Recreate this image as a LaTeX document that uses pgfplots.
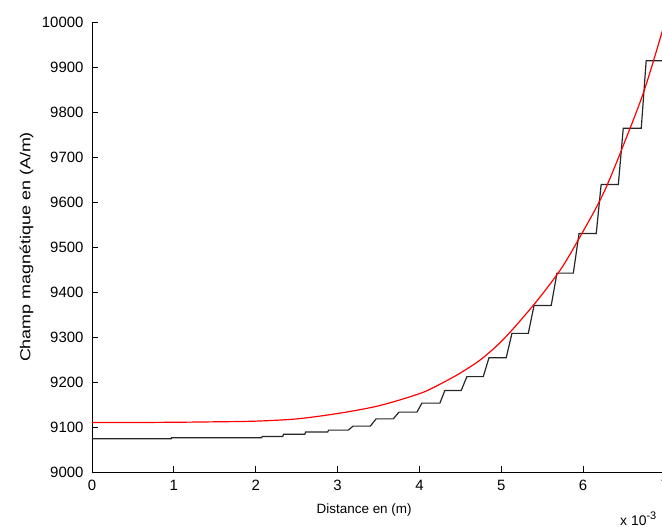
\documentclass[border=0pt]{standalone}
\usepackage{fontspec}
\setmainfont{Liberation Sans}
\usepackage{pgfplots}
\pgfplotsset{compat=1.18}
\begin{document}
\begin{tikzpicture}
\begin{axis}[
  at={(0,0)}, anchor=south west,
  scale only axis,
  width=573bp, height=450bp,
  xmin=0, xmax=7, ymin=9000, ymax=10000,
  axis lines=left,
  axis line style={-, black, line width=0.8pt},
  tick align=inside,
  major tick length=6bp,
  tick style={black, line width=0.8pt},
  xtick={0,1,2,3,4,5,6,7},
  ytick={9000,9100,9200,9300,9400,9500,9600,9700,9800,9900,10000},
  scaled y ticks=false, scaled x ticks=false,
  yticklabel={\pgfmathprintnumber[fixed, precision=0, 1000 sep={}]{\tick}},
  /pgf/number format/assume math mode=true,
  /pgf/number format/1000 sep={},
  tick label style={font=\fontsize{15}{17}\selectfont},
  yticklabel style={xshift=-5bp},
  xticklabel style={yshift=-5bp},
  every axis y label/.style={at={(axis description cs:-0.1143,0.5)}, anchor=center, rotate=90},
  every axis x label/.style={at={(axis description cs:0.475,-0.085)}, anchor=center},
  ylabel={\fontsize{14.5}{16}\selectfont\scalebox{1.24}[1]{Champ magnétique en (A/m)}},
  xlabel={\fontsize{13.5}{16}\selectfont Distance en (m)},
  clip=true,
]
\addplot[black!85, line width=1.2pt] coordinates {
(0,9074) (0.97,9074) (0.97,9076) (2.07,9076) (2.08,9079) (2.33,9079) (2.34,9084)
(2.60,9084) (2.61,9089) (2.88,9089) (2.89,9093) (3.13,9093) (3.19,9102) (3.40,9102)
(3.47,9118) (3.68,9118) (3.75,9133) (3.97,9133) (4.03,9153) (4.25,9153) (4.31,9181)
(4.51,9181) (4.58,9212) (4.78,9212) (4.85,9254) (5.06,9254) (5.13,9308) (5.33,9308)
(5.40,9370) (5.61,9370) (5.68,9442) (5.88,9442) (5.95,9530) (6.16,9530) (6.22,9639)
(6.43,9639) (6.49,9764) (6.71,9764) (6.77,9914) (7.0,9914)
};
\addplot[red, line width=1.2pt, smooth] coordinates {
(0,9110) (0.5,9110) (1.0,9110.5) (1.5,9111.5) (2.0,9113) (2.5,9118) (3.0,9130)
(3.5,9147) (4.0,9174) (4.25,9195) (4.5,9220) (4.75,9250) (5.0,9290) (5.25,9340)
(5.5,9395) (5.75,9457) (6.0,9535) (6.25,9620) (6.5,9730) (6.75,9850) (7.0,10000)
};
\end{axis}
\node[anchor=base west, font=\fontsize{14}{16}\selectfont, inner sep=0pt] at (528bp,-53bp) {x 10\raisebox{6bp}{\fontsize{11}{12}\selectfont -3}};
\pgfresetboundingbox
\useasboundingbox (-92bp,-55bp) rectangle (570bp,472bp);
\end{tikzpicture}
\end{document}
